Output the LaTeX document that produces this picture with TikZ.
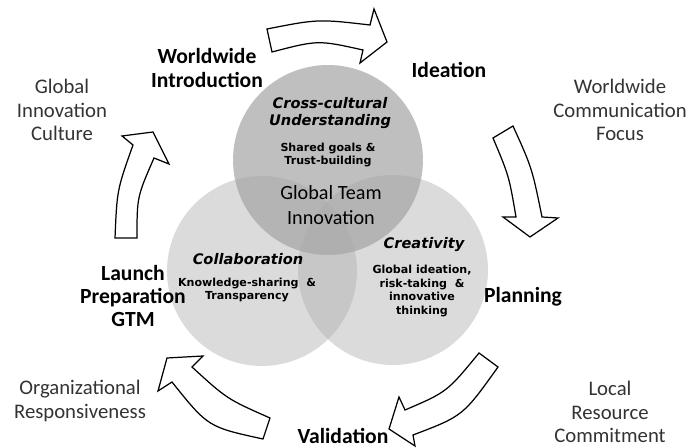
\documentclass[tikz,border=0pt]{standalone}
\usepackage{fontspec}
\setmainfont{Carlito}
\newfontfamily\vfont{DejaVu Sans}

\begin{document}
\begin{tikzpicture}[x=0.02cm,y=-0.02cm,
    zone/.style={circle,minimum size=3.8cm,inner sep=0pt,fill=black!30,fill opacity=.47},
    stage/.style={font=\fontsize{12.3}{13.2}\selectfont\bfseries,align=center},
    driver/.style={font=\fontsize{11.8}{13.3}\selectfont,align=center,text=black!80},
    topic/.style={font=\vfont\bfseries\itshape\fontsize{8.3}{10}\selectfont,align=center},
    note/.style={font=\vfont\bfseries\fontsize{6.3}{7.6}\selectfont,align=center},
    flow/.style={draw=black,fill=white,line width=0.7pt,line join=miter}]
   \useasboundingbox (0,0) rectangle (690,448);

   % the three circles
   \node[zone] (collab) at (262,271) {};
   \node[zone] (creat)  at (393,270) {};
   \node[zone,fill=black!35,fill opacity=.72] (cross) at (328,160) {};

   \node[topic] (crossT) at (330,113) {Cross-cultural\\Understanding};
   \node[note]  (crossN) at (328,155) {Shared goals \&\\Trust-building};
   \node[font=\fontsize{11.5}{14}\selectfont,align=center] (core) at (331,205) {Global Team\\Innovation};
   \node[topic] (collabT) at (248,259) {Collaboration};
   \node[note]  (collabN) at (247,290) {Knowledge-sharing \ \&\\Transparency};
   \node[topic] (creatT) at (424,245) {Creativity};
   \node[note]  (creatN) at (422,291) {Global ideation,\\risk-taking \ \&\\innovative\\thinking};

   % stages of the cycle
   \node[stage] (intro)  at (207,68)  {Worldwide\\Introduction};
   \node[stage] (idea)   at (449,70)  {Ideation};
   \node[stage] (plan)   at (523,297) {Planning};
   \node[stage] (valid)  at (343,436) {Validation};
   \node[stage] (launch) at (133,296) {Launch\\Preparation\\GTM};

   % drivers
   \node[driver] (culture) at (62,110)  {Global\\Innovation\\Culture};
   \node[driver] (comm)    at (620,110) {Worldwide\\Communication\\Focus};
   \node[driver] (local)   at (610,412) {Local\\Resource\\Commitment};
   \node[driver] (resp)    at (80,401)  {Organizational\\Responsiveness};

   % block arrows
   \draw[flow] (267,29) .. controls (318,19) .. (370,25) -- (374,9) -- (387,42)
        -- (360,63) -- (363,50) .. controls (318,40) .. (272,52) -- cycle;
   \draw[flow] (493,138) -- (513,126) .. controls (532,168) .. (542,217) -- (558,218)
        -- (530,237) -- (503,217) -- (516,217) .. controls (509,176) .. (493,138) -- cycle;
   \draw[flow] (479,353) -- (498,367) .. controls (463,416) .. (413,435) -- (415,446)
        -- (389,429) -- (399,397) -- (405,410) .. controls (447,392) .. (479,353) -- cycle;
   \draw[flow] (270,418) .. controls (227,399) .. (192,367) -- (203,356) -- (167,358)
        -- (158,391) -- (172,382) .. controls (208,427) .. (263,439) -- cycle;
   \draw[flow] (115,238) -- (137,238) .. controls (137,197) .. (154,158) -- (169,164)
        -- (153,132) -- (122,136) -- (133,145) .. controls (117,190) .. (115,238) -- cycle;
\end{tikzpicture}
\end{document}
